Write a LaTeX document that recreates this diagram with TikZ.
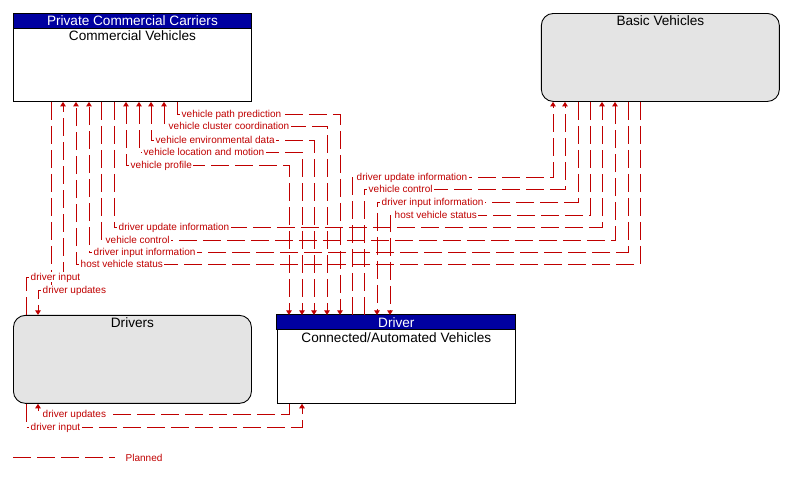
\documentclass[tikz,border=0pt]{standalone}
\usepackage{fontspec}
\setmainfont{Liberation Sans}
\usetikzlibrary{arrows.meta,positioning}

\definecolor{flowred}{RGB}{192,0,0}
\definecolor{hdrblue}{RGB}{0,0,160}
\definecolor{boxgray}{RGB}{228,228,228}

\begin{document}
\begin{tikzpicture}[x=1pt,y=-1pt,>={Triangle[width=5.5pt,length=4.5pt]},
    node distance=25pt,
    sq box/.style={draw,line width=0.9pt,minimum width=238pt,minimum height=88pt,inner sep=0pt},
    rd box/.style={sq box,fill=boxgray,rounded corners=12pt},
    hdr/.style={draw,line width=0.9pt,fill=hdrblue},
    hdr text/.style={text=white,inner sep=0pt,text height=9.6pt,text depth=0pt,font=\fontsize{13.6}{15}\selectfont},
    box text/.style={inner sep=0pt,text height=9.6pt,text depth=0pt,font=\fontsize{13.6}{15}\selectfont},
    flow/.style={draw=flowred,line width=0.9pt,dash pattern=on 18pt off 6pt},
    flow label/.style={anchor=west,fill=white,text=flowred,inner xsep=1.5pt,inner ysep=1pt,
                       text height=7.2pt,text depth=0pt,font=\fontsize{10}{11}\selectfont}]

      \useasboundingbox (0,0) rectangle (789,477);

      % the four elements
      \node[sq box,anchor=north west] (cv) at (13,13) {};
      \node[rd box,right=289pt of cv] (bv) {};
      \node[rd box,below=213pt of cv] (drv) {};
      \node[sq box,right=of drv] (cav) {};
      \draw[hdr] (cv.north west) rectangle ([yshift=-15pt]cv.north east);
      \draw[hdr] (cav.north west) rectangle ([yshift=-15pt]cav.north east);

      \node[hdr text] at ([yshift=-7.5pt]cv.north) {Private Commercial Carriers};
      \node[box text] at ([yshift=-23pt]cv.north) {Commercial Vehicles};
      \node[box text] at ([yshift=-8pt]bv.north) {Basic Vehicles};
      \node[box text] at ([yshift=-8pt]drv.north) {Drivers};
      \node[hdr text] at ([yshift=-7.5pt]cav.north) {Driver};
      \node[box text] at ([yshift=-23pt]cav.north) {Connected/Automated Vehicles};

      % commercial vehicles - connected vehicles
      \draw[flow,->] (177,0 |- cv.south) |- (340,114) -- (340,0 |- cav.north);
      \draw[flow,<->] (164,0 |- cv.south) |- (327,126) -- (327,0 |- cav.north);
      \draw[flow,<->] (151,0 |- cv.south) |- (314,140) -- (314,0 |- cav.north);
      \draw[flow,<->] (139,0 |- cv.south) |- (302,152) -- (302,0 |- cav.north);
      \draw[flow,<->] (126,0 |- cv.south) |- (289,165) -- (289,0 |- cav.north);
      % commercial vehicles - basic vehicles
      \draw[flow,->] (114,0 |- cv.south) |- (602,227) -- (602,0 |- bv.south);
      \draw[flow,->] (101,0 |- cv.south) |- (615,240) -- (615,0 |- bv.south);
      \draw[flow,->] (628,0 |- bv.south) |- (89,252) -- (89,0 |- cv.south);
      \draw[flow,->] (640,0 |- bv.south) |- (76,264) -- (76,0 |- cv.south);
      % connected vehicles - basic vehicles
      \draw[flow,->] (352,0 |- cav.north) |- (553,177) -- (553,0 |- bv.south);
      \draw[flow,->] (364,0 |- cav.north) |- (565,189) -- (565,0 |- bv.south);
      \draw[flow,->] (578,0 |- bv.south) |- (377,202) -- (377,0 |- cav.north);
      \draw[flow,->] (590,0 |- bv.south) |- (390,215) -- (390,0 |- cav.north);
      % drivers
      \draw[flow,->] (26,0 |- drv.north) |- (63,277) -- (63,0 |- cv.south);
      \draw[flow,->] (51,0 |- cv.south) |- (38,290) -- (38,0 |- drv.north);
      \draw[flow,->] (289,0 |- cav.south) |- (38,414) -- (38,0 |- drv.south);
      \draw[flow,->] (26,0 |- drv.south) |- (302,427) -- (302,0 |- cav.south);

      % labels
      \node[flow label] at (180,114) {vehicle path prediction};
      \node[flow label] at (167,126) {vehicle cluster coordination};
      \node[flow label] at (154,140) {vehicle environmental data};
      \node[flow label] at (142,152) {vehicle location and motion};
      \node[flow label] at (129,165) {vehicle profile};
      \node[flow label] at (117,227) {driver update information};
      \node[flow label] at (104,240) {vehicle control};
      \node[flow label] at (92,252) {driver input information};
      \node[flow label] at (79,264) {host vehicle status};
      \node[flow label] at (355,177) {driver update information};
      \node[flow label] at (367,189) {vehicle control};
      \node[flow label] at (380,202) {driver input information};
      \node[flow label] at (393,215) {host vehicle status};
      \node[flow label] at (29,277) {driver input};
      \node[flow label] at (41,290) {driver updates};
      \node[flow label] at (41,414) {driver updates};
      \node[flow label] at (29,427) {driver input};

      % legend
      \coordinate (lg a) at (13,457);
      \coordinate (lg b) at (115,457);
      \draw[flow] (lg a) -- (lg b);
      \node[flow label,fill=none] (lg) at (124,458) {Planned};
    \end{tikzpicture}
\end{document}
